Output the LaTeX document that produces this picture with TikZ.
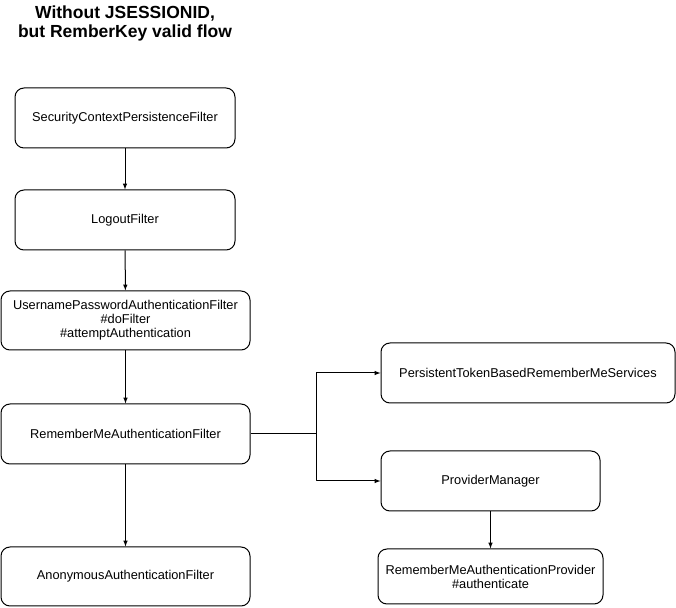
\documentclass[tikz,border=0pt]{standalone}
\usepackage{fontspec}
\setmainfont{Liberation Sans}
\usepackage{tikz}
\usetikzlibrary{arrows,shapes}

\tikzset{fbox/.style={draw,rounded corners=9bp,inner sep=0pt,align=center,
    font=\fontsize{12.8bp}{14bp}\selectfont}}

\begin{document}
\begin{tikzpicture}[>=latex,line join=bevel,line width=1bp]
  \useasboundingbox (0bp,0bp) rectangle (676bp,608bp);
  \node (title) at (125bp,585bp) [align=center,font=\fontsize{17.5bp}{19bp}\selectfont\bfseries]
  {Without JSESSIONID,\\but RemberKey valid flow};
  \node (scpf) at (125bp,490bp) [fbox,minimum width=220bp,minimum height=60bp]
  {SecurityContextPersistenceFilter}; \node (logout) at
  (125bp,388bp) [fbox,minimum width=220bp,minimum height=60bp] {LogoutFilter};
  \node (upaf) at (125.5bp,287.5bp) [fbox,minimum width=249bp,minimum height=59bp]
  {UsernamePasswordAuthenticationFilter\\\#doFilter\\\#attemptAuthentication};
  \node (rmaf) at (125.5bp,174bp) [fbox,minimum width=249bp,minimum height=60bp]
  {RememberMeAuthenticationFilter}; \node (anon) at
  (125.5bp,31.5bp) [fbox,minimum width=249bp,minimum height=59bp]
  {AnonymousAuthenticationFilter};
  \node (ptbrms) at (528bp,235bp) [fbox,minimum width=294bp,minimum height=60bp]
  {PersistentTokenBasedRememberMeServices}; \node (pm) at
  (490.5bp,127bp) [fbox,minimum width=219bp,minimum height=60bp] {ProviderManager};
  \node (rmap) at (490.5bp,31.5bp) [fbox,minimum width=225bp,minimum height=55bp]
  {RememberMeAuthenticationProvider\\\#authenticate};
  \coordinate (split) at (316bp,174bp);
  \draw [->] (scpf) -- (logout); \draw [->] (logout) -- (upaf);
  \draw [->] (upaf) -- (rmaf); \draw [->] (rmaf) -- (anon);
  \draw (rmaf.east) -- (split);
  \draw [->] (split) |- (ptbrms.west); \draw [->] (split) |- (pm.west);
  \draw [->] (pm) -- (rmap);
\end{tikzpicture}
\end{document}
